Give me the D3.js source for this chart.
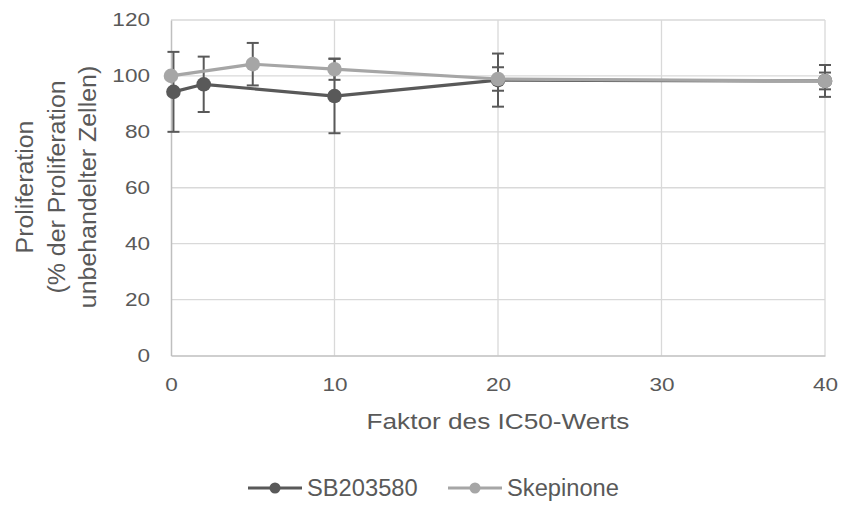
<!DOCTYPE html>
<html>
<head>
<meta charset="utf-8">
<script src="https://cdn.jsdelivr.net/npm/d3@7"></script>
<style>
  html, body { margin: 0; padding: 0; background: #fff; }
  svg { display: block; font-family: "Liberation Sans", Arial, sans-serif; }
</style>
</head>
<body>
<svg id="chart" width="841" height="506"></svg>
<script>
// Proliferation relative to untreated cells, by multiple of the IC50 value
const sbX      = [0.15, 2, 10, 20, 40];
const sbY      = [94.3, 97.0, 92.8, 98.5, 98.2];
const sbErr    = [14.3, 9.9, 13.3, 9.5, 5.7];

const skX      = [0, 5, 10, 20, 40];
const skY      = [100, 104.2, 102.4, 98.9, 98.2];
const skErr    = [0, 7.6, 3.8, 4.2, 3.0];

const xTicks   = [0, 10, 20, 30, 40];
const yTicks   = [0, 20, 40, 60, 80, 100, 120];
const seriesNames = ["SB203580", "Skepinone"];

const colDark  = "#595959";
const colLight = "#A6A6A6";
const colGrid  = "#D9D9D9";
const colAxis  = "#BFBFBF";
const colText  = "#595959";

const svg = d3.select("#chart");
const plot = { left: 171, right: 825, top: 20, bottom: 355.5 };

const x = d3.scaleLinear().domain([0, 40]).range([plot.left, plot.right]);
const y = d3.scaleLinear().domain([0, 120]).range([plot.bottom, plot.top]);

// widen text horizontally in place
function widen(sel, k) {
  sel.each(function () {
    const w = this.getComputedTextLength();
    d3.select(this).attr("textLength", w * k).attr("lengthAdjust", "spacingAndGlyphs");
  });
}

// gridlines
const g = svg.append("g");
g.selectAll(".hgrid").data(yTicks.filter(v => v > 0)).join("line")
  .attr("x1", plot.left).attr("x2", plot.right)
  .attr("y1", d => y(d)).attr("y2", d => y(d))
  .attr("stroke", colGrid).attr("stroke-width", 1.3);
g.selectAll(".vgrid").data(xTicks.filter(v => v > 0)).join("line")
  .attr("y1", plot.top).attr("y2", plot.bottom)
  .attr("x1", d => x(d)).attr("x2", d => x(d))
  .attr("stroke", colGrid).attr("stroke-width", 1.3);

// axes
const xAxis = svg.append("g").attr("transform", `translate(0,${plot.bottom})`)
  .call(d3.axisBottom(x).tickValues(xTicks).tickSize(0).tickPadding(22));
const yAxis = svg.append("g").attr("transform", `translate(${plot.left},0)`)
  .call(d3.axisLeft(y).tickValues(yTicks).tickSize(0).tickPadding(21));
[xAxis, yAxis].forEach(a => {
  a.select(".domain").attr("stroke", colAxis).attr("stroke-width", 1.5);
  a.selectAll("text").attr("fill", colText).style("font-size", "18.5px")
    .style("font-family", "'Liberation Sans', Arial, sans-serif");
  widen(a.selectAll("text"), 1.22);
});

// axis titles
const xTitle = svg.append("text")
  .attr("x", (plot.left + plot.right) / 2).attr("y", 428.5)
  .attr("text-anchor", "middle").attr("fill", colText).style("font-size", "22px")
  .text("Faktor des IC50-Werts");
widen(xTitle, 1.19);

const yTitle = svg.append("text")
  .attr("transform", `translate(0,187) rotate(-90)`)
  .attr("text-anchor", "middle").attr("fill", colText).style("font-size", "23.5px");
["Proliferation", "(% der Proliferation", "unbehandelter Zellen)"].forEach((t, i) => {
  yTitle.append("tspan").attr("x", 0).attr("y", 33 + i * 31.5).text(t);
});
widen(yTitle.selectAll("tspan"), 1.06);

// error bars (drawn in dark grey for both series)
function errorBars(xs, ys, es) {
  const data = xs.map((d, i) => ({ x: d, y: ys[i], e: es[i] })).filter(d => d.e > 0);
  const eg = svg.append("g").attr("stroke", colDark).attr("stroke-width", 2);
  eg.selectAll(".v").data(data).join("line")
    .attr("x1", d => x(d.x)).attr("x2", d => x(d.x))
    .attr("y1", d => y(d.y - d.e)).attr("y2", d => y(d.y + d.e));
  eg.selectAll(".t").data(data).join("line")
    .attr("x1", d => x(d.x) - 6).attr("x2", d => x(d.x) + 6)
    .attr("y1", d => y(d.y + d.e)).attr("y2", d => y(d.y + d.e));
  eg.selectAll(".b").data(data).join("line")
    .attr("x1", d => x(d.x) - 6).attr("x2", d => x(d.x) + 6)
    .attr("y1", d => y(d.y - d.e)).attr("y2", d => y(d.y - d.e));
}

function series(xs, ys, color) {
  const pts = xs.map((d, i) => [d, ys[i]]);
  svg.append("path").datum(pts)
    .attr("fill", "none").attr("stroke", color).attr("stroke-width", 3.2)
    .attr("stroke-linejoin", "round")
    .attr("d", d3.line().x(d => x(d[0])).y(d => y(d[1])));
  svg.append("g").selectAll("circle").data(pts).join("circle")
    .attr("cx", d => x(d[0])).attr("cy", d => y(d[1])).attr("r", 7.3)
    .attr("fill", color);
}

errorBars(sbX, sbY, sbErr);
series(sbX, sbY, colDark);
errorBars(skX, skY, skErr);
series(skX, skY, colLight);

// legend
const legend = svg.append("g").attr("transform", "translate(0,488)");
[[248, colDark, seriesNames[0]], [448, colLight, seriesNames[1]]].forEach(([lx, c, name]) => {
  legend.append("line").attr("x1", lx).attr("x2", lx + 54).attr("y1", 0).attr("y2", 0)
    .attr("stroke", c).attr("stroke-width", 3.2);
  legend.append("circle").attr("cx", lx + 27).attr("cy", 0).attr("r", 5.5).attr("fill", c);
  const t = legend.append("text").attr("x", lx + 59).attr("y", 0).attr("dy", "0.35em")
    .attr("fill", colText).style("font-size", "23px").text(name);
  widen(t, 1.03);
});
</script>
</body>
</html>
